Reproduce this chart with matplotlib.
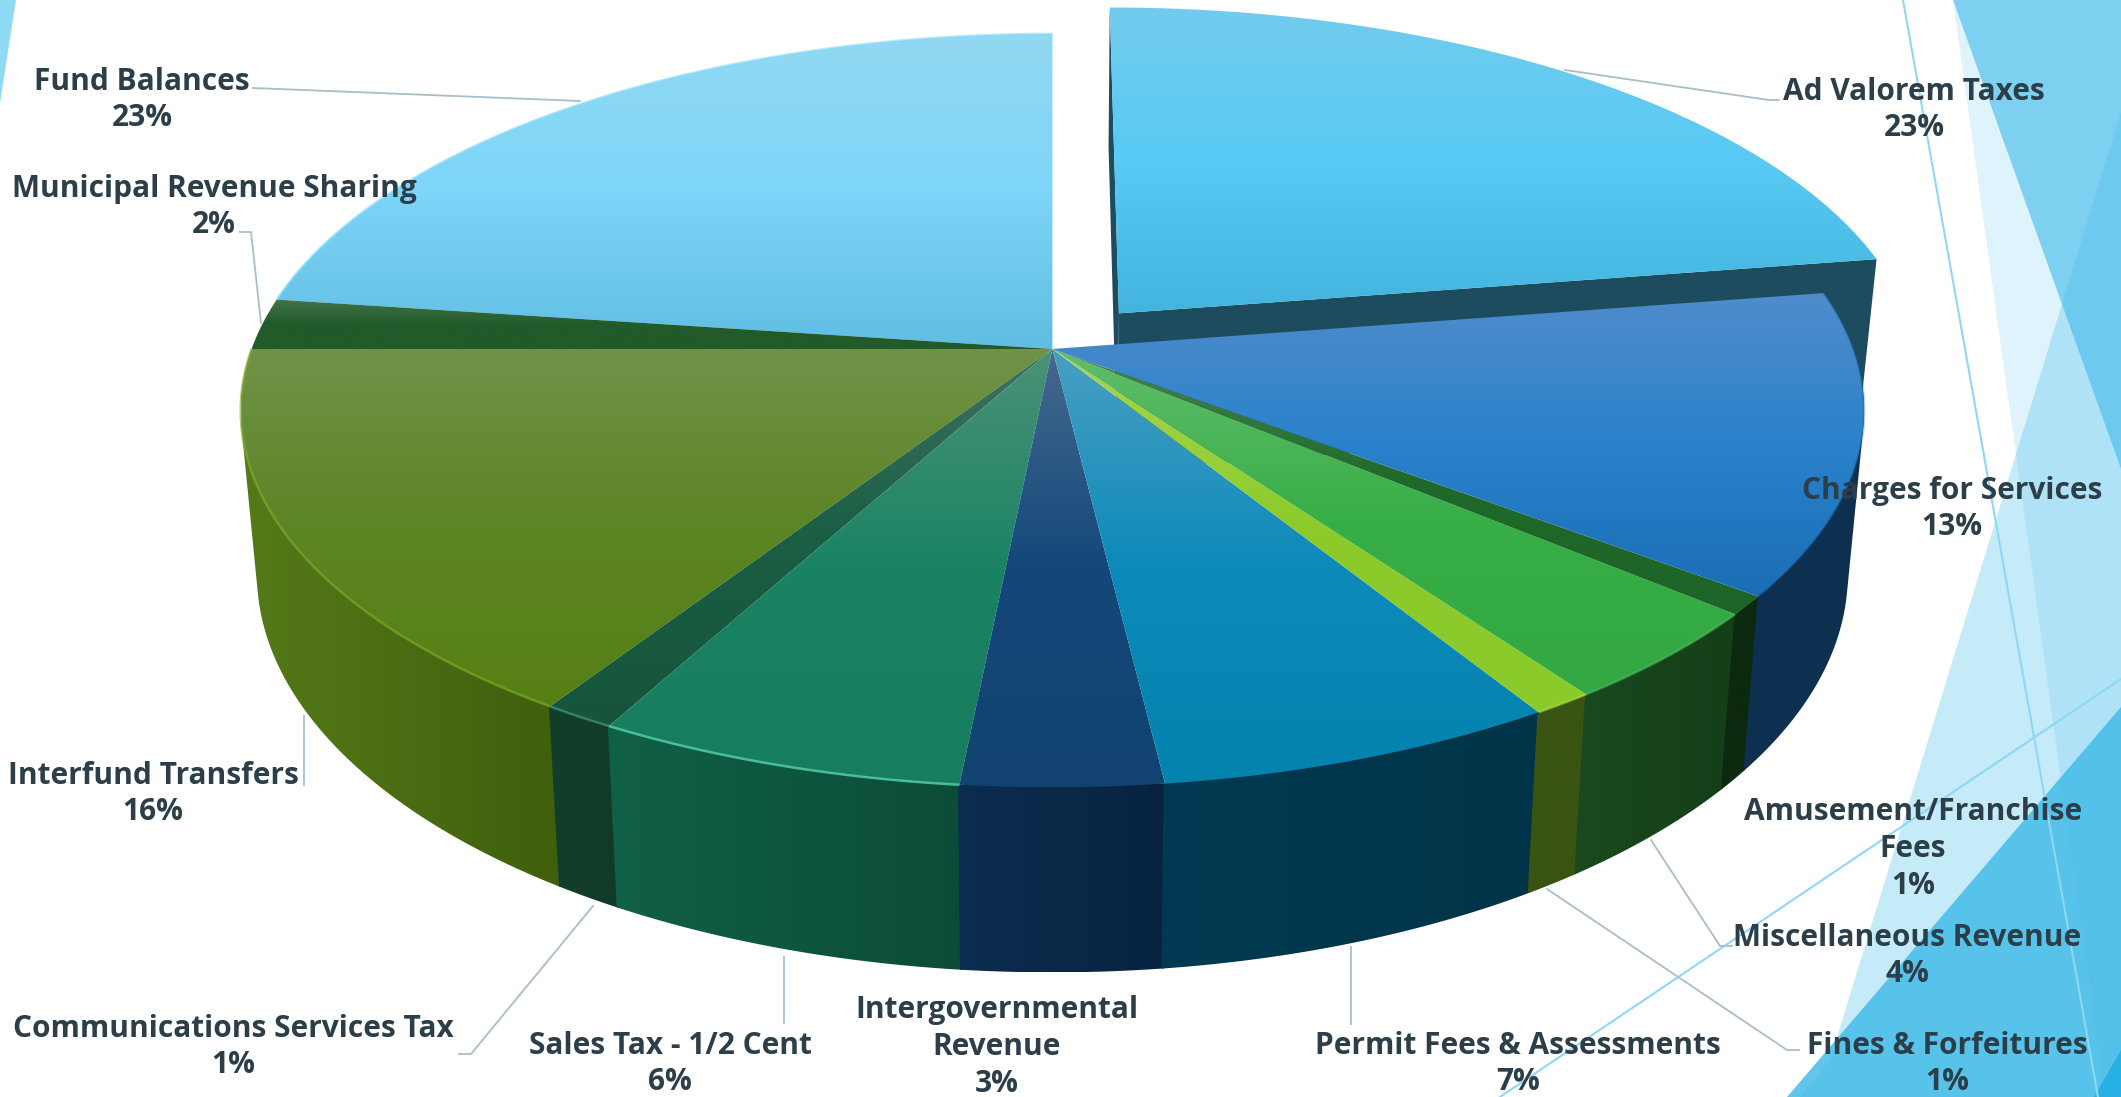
import numpy as np
import matplotlib
matplotlib.use("Agg")
import matplotlib.pyplot as plt
from matplotlib.patches import Polygon
from matplotlib.colors import to_rgb

# ---------- data ----------
categories = ["Ad Valorem Taxes", "Charges for Services", "Amusement/Franchise\nFees",
              "Miscellaneous Revenue", "Fines & Forfeitures", "Permit Fees & Assessments",
              "Intergovernmental\nRevenue", "Sales Tax - 1/2 Cent", "Communications Services Tax",
              "Interfund Transfers", "Municipal Revenue Sharing", "Fund Balances"]
percent_labels = [23, 13, 1, 4, 1, 7, 3, 6, 1, 16, 2, 23]
values = [22.5, 12.9, 0.8, 4.0, 1.05, 6.87, 3.43, 6.31, 1.24, 15.9, 2.2, 22.8]
exploded = [0.13, 0, 0, 0, 0, 0, 0, 0, 0, 0, 0, 0]

# ---------- styles ----------
top_colors = [("#72CCEE", "#58CAF4", "#43B4DE"), ("#508CCA", "#2A82CC", "#1A6EB4"),
              ("#4A8550", "#1F6A2A", "#1D6428"), ("#62BD6C", "#37AE46", "#33A842"),
              ("#A6D654", "#8CCB2A", "#8ACA2A"), ("#4A9FC2", "#0C8ABA", "#0483AE"),
              ("#46698E", "#14487A", "#124370"), ("#4A9278", "#1A8364", "#167D5E"),
              ("#3F7360", "#1A5E44", "#16553C"), ("#709249", "#5C8524", "#568014"),
              ("#43734A", "#215B2A", "#215B2A"), ("#92D9F2", "#7DD5F8", "#60BEE2")]
wall_colors = [("#1C4C5E", "#1C4C5E"), ("#0D3052", "#0F3050"), ("#0C2A10", "#0C2A10"),
               ("#1A4A1E", "#143F18"), ("#3A5412", "#3A5412"), ("#003A52", "#003448"),
               ("#0C2D50", "#072340"), ("#116048", "#0B4C38"), ("#123F2C", "#113B28"),
               ("#557A18", "#3F5F0C"), ("#2E5520", "#2E5520"), ("#7DD5F8", "#7DD5F8")]
rim_colors = [None, "#145A95", None, "#5BC26A", "#A8DC50", None, None,
              "#4FC8A0", "#3C8C70", "#86AE2A", None, "#86DCFA"]
rim_alpha = [0, 0.3, 0, 0.5, 0.6, 0, 0, 0.9, 0.8, 0.6, 0, 0.6]
text_color = "#2C3E48"
leader_color = "#A9BDC9"

label_pos = [(1914, 110), (1952, 509), (1913, 849), (1907, 956), (1947, 1064), (1518, 1064),
             (997, 1047), (670, 1064), (233, 1047), (153, 794), (214, 207), (142, 100)]
leaders = [[(1565, 70), (1769, 100), (1779, 100)], [(1651, 840), (1720, 946), (1732, 946)],
           [(1547, 889), (1787, 1050), (1799, 1050)], [(1351, 947), (1351, 1024)],
           [(784, 957), (784, 1023)], [(593, 906), (471, 1054), (459, 1054)],
           [(304, 716), (304, 785)], [(261, 323), (251, 232), (240, 232)],
           [(580, 101), (253, 88)]]

W, H = 2121, 1097
fig = plt.figure(figsize=(W / 100, H / 100), dpi=100, facecolor="white")
ax = fig.add_axes([0, 0, 1, 1])
ax.set_axis_off()

# ---------- projection of the disk ----------
CX, CY, A, B, K = 1052.4, 349.0, 800.8, 366.6, 0.1634
SX = 0.98


def project(x, y):
    w = 1 - K * y
    return CX + A * x / w, CY + B * y / w


def bottom(X, Y):
    return CX + SX * (X - CX), Y + 139.5 + 0.058 * Y


def hull(points):
    pts = sorted(set(map(tuple, points)))

    def half(seq):
        out = []
        for p in seq:
            while len(out) > 1 and ((out[-1][0] - out[-2][0]) * (p[1] - out[-2][1])
                                    - (out[-1][1] - out[-2][1]) * (p[0] - out[-2][0])) <= 0:
                out.pop()
            out.append(p)
        return out[:-1]

    return np.array(half(pts) + half(pts[::-1]))


def fill_gradient(poly, c_stops, horizontal=False, z=1):
    c_stops = [to_rgb(c) for c in c_stops]
    n = 256
    t = np.linspace(0, 1, n)
    pos = np.linspace(0, 1, len(c_stops))
    arr = np.stack([np.interp(t, pos, [c[i] for c in c_stops]) for i in range(3)], axis=1)
    arr = arr[None, :, :] if horizontal else arr[:, None, :]
    xs, ys = poly[:, 0], poly[:, 1]
    patch = Polygon(poly, closed=True, transform=ax.transData, fc="none", ec="none")
    ax.add_patch(patch)
    im = ax.imshow(arr, extent=(xs.min(), xs.max(), ys.max(), ys.min()), aspect="auto",
                   interpolation="bilinear", zorder=z)
    im.set_clip_path(patch)


# ---------- theme decoration ----------
def deco(points, color, alpha=1.0):
    ax.add_patch(Polygon(points, closed=True, fc=color, ec="none", alpha=alpha, zorder=0))


deco([(0, 0), (16, 0), (0, 103)], "#8FDBF5")
deco([(1953, 0), (2121, 0), (2121, 469)], "#7DD0F0")
deco([(1953, 0), (2121, 469), (2121, 1097), (2105, 1097)], "#4CC0EC", 0.18)
deco([(1830, 1060), (2121, 112), (2121, 1097), (1800, 1097)], "#4CC0EC", 0.32)
deco([(1787, 1097), (2121, 707), (2121, 1097)], "#3FBAE8", 0.82)
deco([(2094, 1097), (2121, 1050), (2121, 1097)], "#27B0E4")
ax.plot([1903, 2098], [0, 1097], color="#8ED8F5", lw=1.5, zorder=0.5)
ax.plot([2121, 1500], [679, 1097], color="#8ED8F5", lw=1.5, zorder=0.5)

# ---------- pie ----------
ends = np.cumsum(values) / np.sum(values) * 2 * np.pi
starts = np.concatenate([[0], ends[:-1]])

order = [0] + list(range(11, 0, -1))
z = 2
geoms = []
for i in order:
    a0, a1, ex = starts[i], ends[i], exploded[i]
    mid = (a0 + a1) / 2
    ox, oy = ex * np.sin(mid), -ex * np.cos(mid)
    th = np.linspace(a0, a1, max(20, int((a1 - a0) * 200)))
    arc_x, arc_y = project(np.sin(th) + ox, -np.cos(th) + oy)
    apex_x, apex_y = project(ox, oy)
    top = np.column_stack([np.r_[apex_x, arc_x], np.r_[apex_y, arc_y]])
    abx, aby = bottom(apex_x, apex_y)
    if ex > 0:
        bx, by = bottom(arc_x, arc_y)
        # inner walls of the pulled-out slice
        for (ex_x, ex_y, bx_e, by_e) in [(arc_x[0], arc_y[0], bx[0], by[0]),
                                         (arc_x[-1], arc_y[-1], bx[-1], by[-1])]:
            wall = np.array([(apex_x, apex_y), (ex_x, ex_y), (bx_e, by_e), (abx, aby)])
            ax.add_patch(Polygon(wall, closed=True, fc=wall_colors[i][0], ec="none", zorder=z))
            z += 1
    elif np.cos(mid) < 0:
        # slightly wider sweep so neighbouring walls leave no seam
        tw = np.linspace(a0 - 0.0015, a1 + 0.0015, th.size)
        wx, wy = project(np.sin(tw), -np.cos(tw))
        bx, by = bottom(wx, wy)
        wall = hull(np.column_stack([np.r_[wx, bx], np.r_[wy, by]]))
        fill_gradient(wall, wall_colors[i], horizontal=True, z=z)
        z += 1
    geoms.append((i, top, arc_x, arc_y, ex))

# the walls sit under every top face
z = 50
for i, top, arc_x, arc_y, ex in geoms:
    fill_gradient(top, top_colors[i], z=z)
    z += 1
for i, top, arc_x, arc_y, ex in geoms:
    if rim_colors[i] is not None:
        ax.plot(arc_x, arc_y, color=rim_colors[i], lw=1.8, alpha=rim_alpha[i], zorder=70,
                solid_capstyle="butt")

# ---------- leaders and labels ----------
for pts in leaders:
    p = np.array(pts)
    ax.plot(p[:, 0], p[:, 1], color=leader_color, lw=1.3, zorder=1.5)

for name, pct, (lx, ly) in zip(categories, percent_labels, label_pos):
    ax.text(lx, ly, f"{name}\n{pct}%", ha="center", va="center", color=text_color,
            fontsize=21.5, family="Open Sans", fontweight="bold", linespacing=1.3, zorder=90)

ax.set_xlim(0, W)
ax.set_ylim(H, 0)
fig.savefig("out.png", dpi=100)
